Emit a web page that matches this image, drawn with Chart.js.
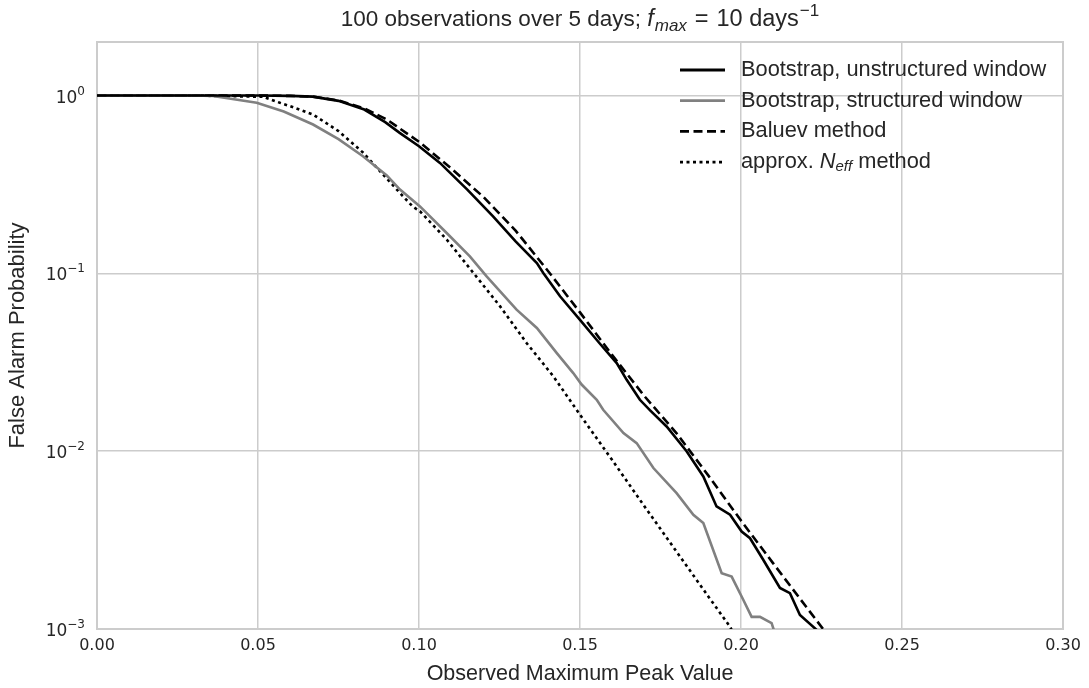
<!DOCTYPE html>
<html>
<head>
<meta charset="utf-8">
<script src="https://cdn.jsdelivr.net/npm/chart.js@4/dist/chart.umd.min.js"></script>
<style>
  body { margin: 0; background: #fff; }
  #wrap { width: 1089px; height: 688px; }
</style>
</head>
<body>
<div id="wrap"><canvas id="fapChart" width="1089" height="688"></canvas></div>
<script>
// values (x = peak value, y = false alarm probability)
const unstructX = [0, 0.02, 0.04, 0.05, 0.06, 0.067, 0.075, 0.083, 0.0895, 0.094, 0.1, 0.1065, 0.115, 0.123, 0.130, 0.1366, 0.1386, 0.1438, 0.15, 0.156, 0.1614, 0.1645, 0.1686, 0.1717, 0.1769, 0.1831, 0.1883, 0.1924, 0.1966, 0.2002, 0.2028, 0.2069, 0.2121, 0.2152, 0.2183, 0.2235, 0.226];
const unstructFAP = [1, 1, 1, 1, 0.9954, 0.9863, 0.933, 0.834, 0.708, 0.617, 0.519, 0.418, 0.296, 0.2094, 0.1514, 0.1143, 0.1005, 0.0743, 0.0548, 0.0406, 0.0313, 0.0252, 0.01945, 0.0170, 0.01377, 0.0100, 0.00721, 0.00489, 0.00439, 0.00353, 0.00324, 0.00245, 0.00170, 0.00159, 0.00120, 0.000989, 0.00088];

const structX = [0, 0.03, 0.036, 0.0496, 0.058, 0.0671, 0.075, 0.0826, 0.09, 0.0941, 0.1003, 0.1086, 0.1158, 0.121, 0.1303, 0.1366, 0.1428, 0.1479, 0.1505, 0.1552, 0.1572, 0.1635, 0.1676, 0.1728, 0.18, 0.1852, 0.1883, 0.194, 0.1971, 0.2007, 0.2033, 0.2059, 0.2095, 0.2105];
const structFAP = [1, 1, 0.9931, 0.910, 0.813, 0.687, 0.569, 0.456, 0.355, 0.296, 0.238, 0.1687, 0.1247, 0.0962, 0.0625, 0.0493, 0.0356, 0.0275, 0.0237, 0.01945, 0.0171, 0.01265, 0.0111, 0.00804, 0.00581, 0.00439, 0.00394, 0.00206, 0.00197, 0.00146, 0.00117, 0.00117, 0.00108, 0.00095];

const baluevX = [0, 0.05, 0.06, 0.067, 0.075, 0.083, 0.09, 0.1, 0.11, 0.12, 0.13, 0.14, 0.15, 0.16, 0.17, 0.18, 0.19, 0.2, 0.21, 0.22, 0.2255, 0.228];
const baluevFAP = [1, 1, 0.9954, 0.9863, 0.9376, 0.8472, 0.7328, 0.5495, 0.389, 0.2692, 0.1738, 0.1035, 0.0603, 0.0347, 0.0204, 0.0126, 0.00724, 0.00407, 0.00234, 0.00135, 0.0010, 0.00079];

const neffX = [0, 0.03, 0.0516, 0.0568, 0.06, 0.0671, 0.075, 0.0826, 0.0941, 0.0981, 0.1003, 0.1086, 0.1169, 0.1252, 0.1334, 0.1417, 0.15, 0.16, 0.17, 0.18, 0.19, 0.1966, 0.1985];
const neffFAP = [1, 1, 0.984, 0.91, 0.871, 0.782, 0.631, 0.478, 0.283, 0.237, 0.2234, 0.155, 0.1005, 0.0652, 0.0406, 0.0264, 0.01603, 0.00891, 0.0049, 0.00272, 0.00151, 0.00103, 0.00088];

const xTicks = [0, 0.05, 0.1, 0.15, 0.2, 0.25, 0.3];
const yTicks = [1, 0.1, 0.01, 0.001];
const yTickExps = ["0", "\u22121", "\u22122", "\u22123"];

const textColor = "#262626";
const gridColor = "#cccccc";

function pairs(xs, ys) {
  return xs.map((x, i) => ({ x: x, y: ys[i] }));
}

// draws a run of text pieces with italics / sub / superscripts, returns width
function richText(ctx, parts, x, y, measureOnly) {
  let cx = x;
  parts.forEach(p => {
    ctx.font = p.font;
    const w = ctx.measureText(p.t).width;
    if (!measureOnly) ctx.fillText(p.t, cx, y + (p.dy || 0));
    cx += w + (p.gap || 0);
  });
  return cx - x;
}

const titleParts = [
  { t: "100 observations over 5 days; ", font: "22.5px 'Liberation Sans'" },
  { t: "f", font: "italic 23.5px 'Liberation Sans'", gap: 1 },
  { t: "max", font: "italic 17px 'Liberation Sans'", dy: 5, gap: 8 },
  { t: "=", font: "23.5px 'Liberation Sans'", gap: 8 },
  { t: "10 days", font: "23.5px 'Liberation Sans'", gap: 1 },
  { t: "\u22121", font: "17px 'Liberation Sans'", dy: -10 }
];

const legendFont = "21.8px 'Liberation Sans'";
const legendRows = [
  { color: "#000", dash: [], parts: [{ t: "Bootstrap, unstructured window", font: legendFont }] },
  { color: "#808080", dash: [], parts: [{ t: "Bootstrap, structured window", font: legendFont }] },
  { color: "#000", dash: [9, 4.5], parts: [{ t: "Baluev method", font: legendFont }] },
  { color: "#000", dash: [3, 3.5], parts: [
    { t: "approx. ", font: legendFont },
    { t: "N", font: "italic 21.8px 'Liberation Sans'" },
    { t: "eff", font: "italic 15px 'Liberation Sans'", dy: 5 },
    { t: " method", font: legendFont }
  ] }
];

const decorations = {
  id: "decorations",
  beforeDatasetsDraw(chart) {
    const ctx = chart.ctx;
    const a = chart.chartArea;
    ctx.save();
    ctx.strokeStyle = gridColor;
    ctx.lineWidth = 2;
    ctx.strokeRect(a.left, a.top, a.right - a.left, a.bottom - a.top);
    ctx.restore();
  },
  afterDraw(chart) {
    const ctx = chart.ctx;
    const a = chart.chartArea;
    const yScale = chart.scales.y;
    ctx.save();
    ctx.fillStyle = textColor;
    ctx.textBaseline = "alphabetic";
    ctx.textAlign = "left";
    const tw = richText(ctx, titleParts, 0, 0, true);
    richText(ctx, titleParts, (a.left + a.right) / 2 - tw / 2, 26, false);

    // y tick labels: 10 with a raised exponent, placed by the log scale
    yTicks.forEach((v, i) => {
      const py = yScale.getPixelForValue(v);
      const parts = [
        { t: "10", font: "17px 'DejaVu Sans'" },
        { t: yTickExps[i], font: "12px 'DejaVu Sans'", dy: -8 }
      ];
      const w = richText(ctx, parts, 0, 0, true);
      richText(ctx, parts, a.left - 12 - w, py + 7, false);
    });

    legendRows.forEach((row, i) => {
      const y = 70 + i * 30.7;
      ctx.beginPath();
      ctx.setLineDash(row.dash);
      ctx.lineCap = "butt";
      ctx.strokeStyle = row.color;
      ctx.lineWidth = 2.8;
      ctx.moveTo(680, y);
      ctx.lineTo(725, y);
      ctx.stroke();
      ctx.setLineDash([]);
      ctx.fillStyle = textColor;
      ctx.textBaseline = "middle";
      richText(ctx, row.parts, 741, y, false);
    });
    ctx.restore();
  }
};

const ctx = document.getElementById("fapChart").getContext("2d");
new Chart(ctx, {
  type: "line",
  data: {
    datasets: [
      { label: "Bootstrap, unstructured window", data: pairs(unstructX, unstructFAP), borderColor: "#000", borderWidth: 2.6 },
      { label: "Bootstrap, structured window", data: pairs(structX, structFAP), borderColor: "#808080", borderWidth: 2.6 },
      { label: "Baluev method", data: pairs(baluevX, baluevFAP), borderColor: "#000", borderWidth: 2.6, borderDash: [9, 4.5] },
      { label: "approx. N_eff method", data: pairs(neffX, neffFAP), borderColor: "#000", borderWidth: 2.6, borderDash: [3, 3.5], borderCapStyle: "butt" }
    ]
  },
  options: {
    responsive: false,
    animation: false,
    events: [],
    layout: { padding: { top: 42, right: 26, left: 0, bottom: 0 } },
    elements: { point: { radius: 0 }, line: { tension: 0, fill: false } },
    plugins: {
      legend: { display: false },
      title: { display: false },
      tooltip: { enabled: false }
    },
    scales: {
      x: {
        type: "linear",
        min: 0,
        max: 0.3,
        afterFit: s => { s.height = 59; },
        afterBuildTicks: s => { s.ticks = xTicks.map(v => ({ value: v })); },
        grid: { color: gridColor, lineWidth: 1.5, drawTicks: false },
        border: { display: false },
        ticks: {
          color: textColor,
          padding: 7,
          font: { family: "'DejaVu Sans'", size: 16 },
          callback: v => v.toFixed(2)
        },
        title: {
          display: true,
          text: "Observed Maximum Peak Value",
          color: textColor,
          font: { family: "'Liberation Sans'", size: 21.5 },
          padding: { top: 0, bottom: 1 }
        }
      },
      y: {
        type: "logarithmic",
        min: 0.001,
        max: 2,
        afterFit: s => { s.width = 97; },
        afterBuildTicks: s => { s.ticks = yTicks.map(v => ({ value: v })); },
        grid: { color: gridColor, lineWidth: 1.5, drawTicks: false },
        border: { display: false },
        ticks: {
          padding: 10,
          callback: () => ""
        },
        title: {
          display: true,
          text: "False Alarm Probability",
          color: textColor,
          font: { family: "'Liberation Sans'", size: 22 },
          padding: { top: 5, bottom: 0 }
        }
      }
    }
  },
  plugins: [decorations]
});
</script>
</body>
</html>
